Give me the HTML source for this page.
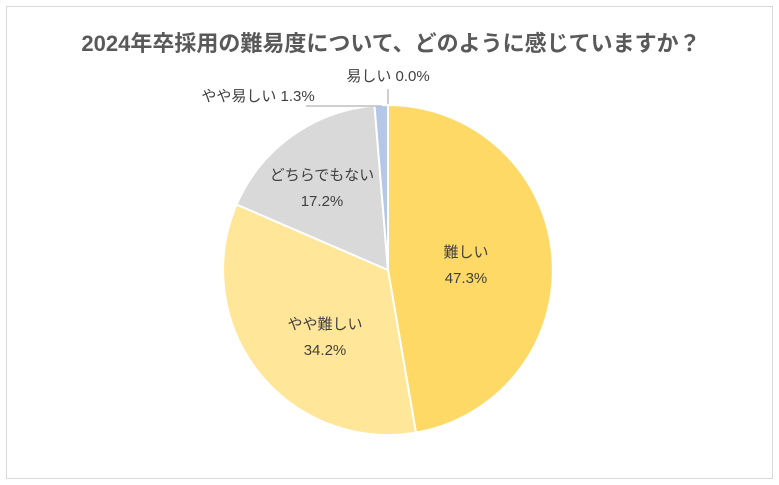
<!DOCTYPE html>
<html><head><meta charset="utf-8"><style>
body{margin:0;background:#fff;}
svg{display:block;font-family:"Liberation Sans","Noto Sans CJK JP",sans-serif;}
</style></head><body>
<svg width="779" height="485" viewBox="0 0 779 485">
<rect x="6.5" y="6.5" width="766" height="472" fill="#fff" stroke="#d9d9d9"/>
<text x="391" y="51" text-anchor="middle" font-size="22" font-weight="bold" fill="#595959">2024年卒採用の難易度について、どのように感じていますか？</text>
<g stroke="#fff" stroke-width="2">
<path d="M388,270 L388,105 A165,165 0 0 1 415.9,432.6 Z" fill="#FFD966"/>
<path d="M388,270 L415.9,432.6 A165,165 0 0 1 236.6,204.5 Z" fill="#FFE699"/>
<path d="M388,270 L236.6,204.5 A165,165 0 0 1 374.5,105.6 Z" fill="#D9D9D9"/>
<path d="M388,270 L374.5,105.6 A165,165 0 0 1 388,105 Z" fill="#B4C7E7"/>
</g>
<g stroke="#bfbfbf" stroke-width="1.5" fill="none">
<line x1="388" y1="89" x2="388" y2="104"/>
<polyline points="306,106 382,106"/>
</g>
<g font-size="15" fill="#404040" text-anchor="middle">
<text x="466" y="257">難しい</text><text x="466" y="283">47.3%</text>
<text x="325" y="329">やや難しい</text><text x="325" y="355">34.2%</text>
<text x="322" y="180">どちらでもない</text><text x="322" y="206">17.2%</text>
<text x="388" y="81">易しい 0.0%</text>
<text x="258" y="101">やや易しい 1.3%</text>
</g>
</svg>
</body></html>
